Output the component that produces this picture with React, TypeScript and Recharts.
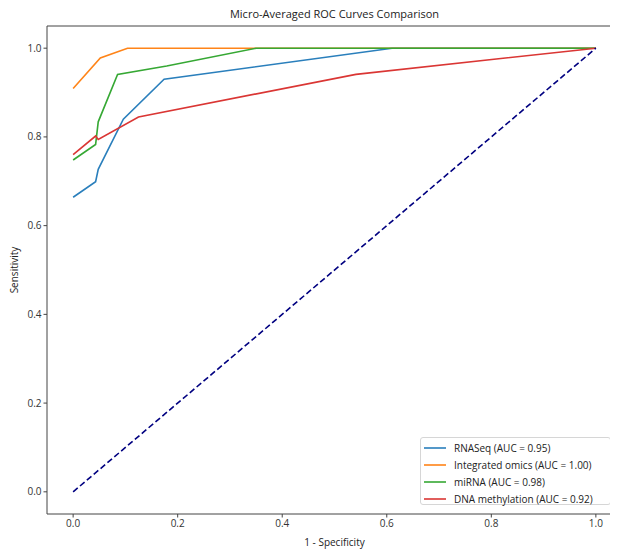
import { LineChart, Line, XAxis, YAxis, ReferenceLine } from 'recharts'

// false positive rate / true positive rate per model
const rnaFpr = [0, 0.043, 0.048, 0.096, 0.174, 0.61, 1.0]
const rnaTpr = [0.664, 0.699, 0.727, 0.84, 0.93, 1.0, 1.0]

const omicsFpr = [0, 0.052, 0.104, 1.0]
const omicsTpr = [0.909, 0.978, 1.0, 1.0]

const mirFpr = [0, 0.043, 0.048, 0.085, 0.179, 0.35, 1.0]
const mirTpr = [0.748, 0.783, 0.834, 0.941, 0.96, 1.0, 1.0]

const dnaFpr = [0, 0.043, 0.048, 0.125, 0.541, 1.0]
const dnaTpr = [0.76, 0.802, 0.794, 0.845, 0.941, 1.0]

const chanceFpr = [0, 1]
const chanceTpr = [0, 1]

const ticks = [0, 0.2, 0.4, 0.6, 0.8, 1.0]

const series = [
  { name: 'RNASeq (AUC = 0.95)', color: '#2a7fbc', fpr: rnaFpr, tpr: rnaTpr },
  { name: 'Integrated omics (AUC = 1.00)', color: '#ff8418', fpr: omicsFpr, tpr: omicsTpr },
  { name: 'miRNA (AUC = 0.98)', color: '#36a834', fpr: mirFpr, tpr: mirTpr },
  { name: 'DNA methylation (AUC = 0.92)', color: '#da3634', fpr: dnaFpr, tpr: dnaTpr },
]

const toRows = (xs: number[], ys: number[]) => xs.map((x, i) => ({ x, y: ys[i] }))

const font = '"Open Sans", "DejaVu Sans", sans-serif'
const tickStyle = { fill: '#333', fontSize: 10, fontFamily: font }

export default function App() {
  return (
    <div style={{ margin: '-8px 0 0 -8px', width: 618, height: 552, overflow: 'hidden', position: 'relative', background: '#fff' }}>
      <div
        style={{
          position: 'absolute', top: 6, left: 47, width: 575, textAlign: 'center',
          fontFamily: font, fontSize: 11, color: '#222',
        }}
      >
        Micro-Averaged ROC Curves Comparison
      </div>
      <LineChart width={626} height={552} margin={{ top: 26, right: 4, bottom: 0, left: 0 }}>
        <XAxis
          dataKey="x"
          type="number"
          domain={[-0.05, 1.05]}
          ticks={ticks}
          tickFormatter={(v: number) => v.toFixed(1)}
          allowDataOverflow
          height={38}
          tick={tickStyle}
          tickSize={3.5}
          stroke="#444"
        />
        <YAxis
          dataKey="y"
          type="number"
          domain={[-0.05, 1.05]}
          ticks={ticks}
          tickFormatter={(v: number) => v.toFixed(1)}
          allowDataOverflow
          width={47}
          tick={tickStyle}
          tickSize={3.5}
          stroke="#444"
        />
        <ReferenceLine y={1.05} stroke="#444" />
        {series.map((s) => (
          <Line
            key={s.name}
            data={toRows(s.fpr, s.tpr)}
            dataKey="y"
            type="linear"
            stroke={s.color}
            strokeWidth={1.6}
            dot={false}
            isAnimationActive={false}
          />
        ))}
        <Line
          data={toRows(chanceFpr, chanceTpr)}
          dataKey="y"
          type="linear"
          stroke="#000080"
          strokeWidth={1.6}
          strokeDasharray="6 3"
          dot={false}
          isAnimationActive={false}
        />
      </LineChart>
      <div
        style={{
          position: 'absolute', top: 535, left: 47, width: 575, textAlign: 'center',
          fontFamily: font, fontSize: 10, color: '#222',
        }}
      >
        1 - Specificity
      </div>
      <div
        style={{
          position: 'absolute', left: 14, top: 270, transform: 'translate(-50%, -50%) rotate(-90deg)',
          fontFamily: font, fontSize: 10, color: '#222', whiteSpace: 'nowrap',
        }}
      >
        Sensitivity
      </div>
      <div
        style={{
          position: 'absolute', left: 420, top: 437, width: 191, height: 68,
          border: '1px solid #d6d6d6', borderRadius: 3, background: 'rgba(255,255,255,0.85)',
          fontFamily: font, fontSize: 10, color: '#222', boxSizing: 'border-box', padding: '2px 0 0 3px',
        }}
      >
        {series.map((s) => (
          <div key={s.name} style={{ display: 'flex', alignItems: 'center', height: 16.8 }}>
            <svg width={22} height={4} style={{ marginRight: 8 }}>
              <line x1={0} y1={2} x2={22} y2={2} stroke={s.color} strokeWidth={1.6} />
            </svg>
            <span>{s.name}</span>
          </div>
        ))}
      </div>
    </div>
  )
}
